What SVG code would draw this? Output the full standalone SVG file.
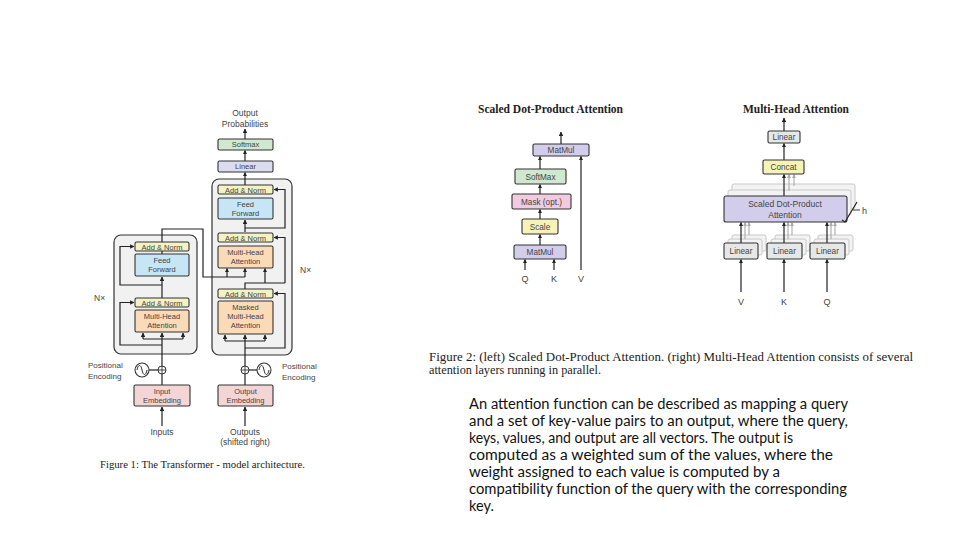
<svg xmlns="http://www.w3.org/2000/svg" width="960" height="540" viewBox="0 0 960 540">
<defs>
<marker id="a" viewBox="0 0 10 10" refX="9" refY="5" markerWidth="3.6" markerHeight="3.6" orient="auto"><path d="M0,0 L10,5 L0,10 z" fill="#222"/></marker>
<marker id="ag" viewBox="0 0 10 10" refX="9" refY="5" markerWidth="3.6" markerHeight="3.6" orient="auto"><path d="M0,0 L10,5 L0,10 z" fill="#aaa"/></marker>
<style>
.t{font-family:"Liberation Sans",Arial,sans-serif;font-size:7.5px;fill:#444;text-anchor:middle}
.r{font-size:8.2px}
.l{font-family:"Liberation Sans",Arial,sans-serif;font-size:8px;fill:#444}
.b{stroke:#333;stroke-width:1.1}
.blk{fill:#f1f1f1;stroke:#333;stroke-width:1.2}
.an{fill:#f2f2c4}.ff{fill:#c6e6f6}.mh{fill:#fbdab7}.em{fill:#f4d5d5}.li{fill:#dcdcf1}.sm{fill:#cfe8cf}
.mm{fill:#d3cdec}.mk{fill:#f3cbe0}.sc{fill:#f6f3b8}.gl{fill:#e6e8e8}
.c{fill:none;stroke:#222;stroke-width:1.2}
.ca{fill:none;stroke:#222;stroke-width:1.2;marker-end:url(#a)}
.cg{fill:none;stroke:#aaa;stroke-width:1.1;marker-end:url(#ag)}
.bg{fill:#f3f3f3;stroke:#c8c8c8;stroke-width:1}
.s{font-family:"Liberation Serif","Times New Roman",serif;fill:#222}
.p{font-family:Lato,"Liberation Sans",sans-serif;font-size:14.5px;fill:#111}
</style>
</defs>
<rect width="960" height="540" fill="#fff"/>

<!-- Transformer -->
<g id="decoder-block"><rect class="blk" x="212" y="179" width="80" height="176" rx="7"/></g>
<g id="encoder-block"><rect class="blk" x="114" y="235" width="83" height="119" rx="7"/></g>

<g id="connectors-left">
<path class="ca" d="M162,426 V407"/>
<path class="c" d="M162,385 V374"/>
<path class="ca" d="M162,366 V333"/>
<path class="c" d="M143,339 H183"/>
<path class="ca" d="M143,339 V333"/>
<path class="ca" d="M183,339 V333"/>
<path class="ca" d="M162,345 H120 V302.5 H134"/>
<path class="ca" d="M162,298 V277"/>
<path class="ca" d="M162,285 H120 V246.5 H134"/>
<path class="c" d="M162,254 V251"/>
<path class="c" d="M162,242 V229 H203 V277 H245"/>
<path class="ca" d="M227,277 V268.5"/>
<path class="ca" d="M245,277 V268.5"/>
<path class="ca" d="M245,426 V407"/>
<path class="c" d="M245,385 V374"/>
<path class="ca" d="M245,366 V335"/>
<path class="c" d="M225,341 H265"/>
<path class="ca" d="M225,341 V335"/>
<path class="ca" d="M265,341 V335"/>
<path class="ca" d="M245,348 H285 V293.5 H274"/>
<path class="c" d="M245,289 V283 H285"/>
<path class="ca" d="M265,283 V268.5"/>
<path class="ca" d="M285,283 V237.5 H274"/>
<path class="ca" d="M245,232 V220"/>
<path class="ca" d="M245,228 H285 V189.5 H274"/>
<path class="ca" d="M245,185 V172.5"/>
<path class="ca" d="M245,161 V150.5"/>
<path class="ca" d="M245,139 V129"/>
<path class="c" d="M149,370 H158"/>
<path class="c" d="M249,370 H257"/>
</g>

<g id="enc-pos">
<circle cx="142" cy="370" r="7" fill="#fff" stroke="#333" stroke-width="1.1"/>
<path d="M137,370 C138,364 141,364 142,370 C143,376 146,376 147,370" fill="none" stroke="#333" stroke-width="1"/>
<circle cx="162" cy="370" r="4" fill="#fff" stroke="#333" stroke-width="1"/>
<path d="M158,370 H166 M162,366 V374" stroke="#333" stroke-width="0.9"/>
<text class="l" x="88" y="368">Positional</text><text class="l" x="88" y="379">Encoding</text>
</g>
<g id="dec-pos">
<circle cx="264" cy="370" r="7" fill="#fff" stroke="#333" stroke-width="1.1"/>
<path d="M259,370 C260,364 263,364 264,370 C265,376 268,376 269,370" fill="none" stroke="#333" stroke-width="1"/>
<circle cx="245" cy="370" r="4" fill="#fff" stroke="#333" stroke-width="1"/>
<path d="M241,370 H249 M245,366 V374" stroke="#333" stroke-width="0.9"/>
<text class="l" x="282" y="369">Positional</text><text class="l" x="282" y="380">Encoding</text>
</g>

<g id="enc-an1"><rect class="b an" x="135" y="242" width="54" height="9" rx="1.5"/><text class="t" x="162" y="249.5">Add &amp; Norm</text></g>
<g id="enc-ff"><rect class="b ff" x="135" y="254" width="54" height="22" rx="1.5"/><text class="t" x="162" y="263">Feed</text><text class="t" x="162" y="272">Forward</text></g>
<g id="enc-an2"><rect class="b an" x="135" y="298" width="54" height="9" rx="1.5"/><text class="t" x="162" y="305.5">Add &amp; Norm</text></g>
<g id="enc-mha"><rect class="b mh" x="135" y="310" width="54" height="22" rx="1.5"/><text class="t" x="162" y="319">Multi-Head</text><text class="t" x="162" y="328">Attention</text></g>
<g id="enc-emb"><rect class="b em" x="134" y="385" width="56" height="21" rx="1.5"/><text class="t" x="162" y="394">Input</text><text class="t" x="162" y="403">Embedding</text></g>

<g id="dec-an1"><rect class="b an" x="218" y="185" width="55" height="9" rx="1.5"/><text class="t" x="245.5" y="192.5">Add &amp; Norm</text></g>
<g id="dec-ff"><rect class="b ff" x="218" y="198" width="55" height="21" rx="1.5"/><text class="t" x="245.5" y="207">Feed</text><text class="t" x="245.5" y="216">Forward</text></g>
<g id="dec-an2"><rect class="b an" x="218" y="233" width="55" height="9" rx="1.5"/><text class="t" x="245.5" y="240.5">Add &amp; Norm</text></g>
<g id="dec-mha"><rect class="b mh" x="218" y="246" width="55" height="22" rx="1.5"/><text class="t" x="245.5" y="255">Multi-Head</text><text class="t" x="245.5" y="264">Attention</text></g>
<g id="dec-an3"><rect class="b an" x="218" y="289" width="55" height="9" rx="1.5"/><text class="t" x="245.5" y="296.5">Add &amp; Norm</text></g>
<g id="dec-mmha"><rect class="b mh" x="218" y="301" width="55" height="33" rx="1.5"/><text class="t" x="245.5" y="310">Masked</text><text class="t" x="245.5" y="319">Multi-Head</text><text class="t" x="245.5" y="328">Attention</text></g>
<g id="dec-emb"><rect class="b em" x="218" y="385" width="55" height="21" rx="1.5"/><text class="t" x="245.5" y="394">Output</text><text class="t" x="245.5" y="403">Embedding</text></g>
<g id="linear"><rect class="b li" x="218" y="161" width="55" height="11" rx="1.5"/><text class="t" x="245.5" y="169">Linear</text></g>
<g id="softmax"><rect class="b sm" x="218" y="139" width="55" height="11" rx="1.5"/><text class="t" x="245.5" y="147">Softmax</text></g>

<text class="t" x="245" y="116" style="font-size:8.5px">Output</text>
<text class="t" x="245" y="127" style="font-size:8.5px">Probabilities</text>
<text class="t" x="162" y="435" style="font-size:8.5px">Inputs</text>
<text class="t" x="245" y="435" style="font-size:8.5px">Outputs</text>
<text class="t" x="245" y="445" style="font-size:8.5px">(shifted right)</text>
<text class="l" x="94" y="301" style="font-size:8.5px">N×</text>
<text class="l" x="300" y="273" style="font-size:8.5px">N×</text>
<text class="s" x="100" y="468" font-size="10.5" textLength="205" lengthAdjust="spacingAndGlyphs">Figure 1: The Transformer - model architecture.</text>

<!-- Scaled Dot-Product Attention -->
<text class="s" x="478" y="113" font-size="11.5" font-weight="bold" textLength="145" lengthAdjust="spacingAndGlyphs">Scaled Dot-Product Attention</text>
<g id="sdpa-connectors">
<path class="ca" d="M561,144 V132"/>
<path class="ca" d="M540,169 V156.5"/>
<path class="ca" d="M540,194 V184.5"/>
<path class="ca" d="M540,219 V209.5"/>
<path class="ca" d="M540,245 V234.5"/>
<path class="ca" d="M525,270 V259.5"/>
<path class="ca" d="M554,270 V259.5"/>
<path class="ca" d="M581,270 V156.5"/>
</g>
<g id="sdpa-matmul2"><rect class="b mm" x="533" y="144" width="56" height="12" rx="1.5" stroke-width="1.4"/><text class="t r" x="561" y="153">MatMul</text></g>
<g id="sdpa-softmax"><rect class="b sm" x="515" y="169" width="51" height="15" rx="1.5" stroke-width="1.4"/><text class="t r" x="540.5" y="179.5">SoftMax</text></g>
<g id="sdpa-mask"><rect class="b mk" x="512" y="194" width="59" height="15" rx="1.5" stroke-width="1.4"/><text class="t r" x="541.5" y="204.5">Mask (opt.)</text></g>
<g id="sdpa-scale"><rect class="b sc" x="522" y="219" width="36" height="15" rx="1.5" stroke-width="1.4"/><text class="t r" x="540" y="229.5">Scale</text></g>
<g id="sdpa-matmul1"><rect class="b mm" x="514" y="245" width="52" height="14" rx="1.5" stroke-width="1.4"/><text class="t r" x="540" y="255">MatMul</text></g>
<text class="t" x="525" y="282" style="font-size:9px">Q</text>
<text class="t" x="554" y="282" style="font-size:9px">K</text>
<text class="t" x="581" y="282" style="font-size:9px">V</text>

<!-- Multi-Head Attention -->
<text class="s" x="743" y="113" font-size="11.5" font-weight="bold" textLength="106" lengthAdjust="spacingAndGlyphs">Multi-Head Attention</text>
<g id="mha-back">
<rect class="bg" x="732" y="184" width="123" height="25" rx="2"/>
<rect class="bg" x="728" y="190" width="123" height="25" rx="2"/>
<rect class="bg" x="732" y="235" width="34" height="16" rx="2"/><rect class="bg" x="728" y="239" width="34" height="16" rx="2"/>
<rect class="bg" x="775" y="235" width="35" height="16" rx="2"/><rect class="bg" x="771" y="239" width="35" height="16" rx="2"/>
<rect class="bg" x="818" y="235" width="35" height="16" rx="2"/><rect class="bg" x="814" y="239" width="35" height="16" rx="2"/>
</g>
<g id="mha-connectors">
<path class="cg" d="M794,186 V174.5"/><path class="cg" d="M789,191 V174.5"/>
<path class="cg" d="M749,235 V222.5"/><path class="cg" d="M745,239 V222.5"/>
<path class="cg" d="M792,235 V222.5"/><path class="cg" d="M788,239 V222.5"/>
<path class="cg" d="M835,235 V222.5"/><path class="cg" d="M831,239 V222.5"/>
<path class="ca" d="M784,131 V118"/>
<path class="ca" d="M784,160 V143.5"/>
<path class="ca" d="M784,196 V174.5"/>
<path class="ca" d="M741,243 V222.5"/>
<path class="ca" d="M784,243 V222.5"/>
<path class="ca" d="M827,243 V222.5"/>
<path class="ca" d="M741,292 V259.5"/>
<path class="ca" d="M784,292 V259.5"/>
<path class="ca" d="M827,292 V259.5"/>
</g>
<g id="mha-linear"><rect class="b gl" x="768" y="131" width="32" height="12" rx="1.5" stroke-width="1.4"/><text class="t r" x="784" y="140">Linear</text></g>
<g id="mha-concat"><rect class="b sc" x="763" y="160" width="41" height="14" rx="1.5" stroke-width="1.4"/><text class="t r" x="783.5" y="170">Concat</text></g>
<g id="mha-sdpa"><rect class="b mm" x="724" y="196" width="123" height="26" rx="2" stroke-width="1.6"/><text class="t" x="785" y="207" style="font-size:8.5px">Scaled Dot-Product</text><text class="t" x="785" y="218" style="font-size:8.5px">Attention</text></g>
<g id="mha-lin1"><rect class="b gl" x="724" y="243" width="34" height="16" rx="1.5" stroke-width="1.4"/><text class="t r" x="741" y="254">Linear</text></g>
<g id="mha-lin2"><rect class="b gl" x="767" y="243" width="35" height="16" rx="1.5" stroke-width="1.4"/><text class="t r" x="784.5" y="254">Linear</text></g>
<g id="mha-lin3"><rect class="b gl" x="810" y="243" width="35" height="16" rx="1.5" stroke-width="1.4"/><text class="t r" x="827.5" y="254">Linear</text></g>
<g id="h-mark">
<path d="M842,220 L845,222 L857,202" fill="none" stroke="#222" stroke-width="1.2"/>
<path d="M853,210 H860" stroke="#222" stroke-width="0.9"/>
<text class="l" x="862" y="214" style="font-size:9px">h</text>
</g>
<text class="t" x="741" y="305" style="font-size:9px">V</text>
<text class="t" x="784" y="305" style="font-size:9px">K</text>
<text class="t" x="827" y="305" style="font-size:9px">Q</text>

<text class="s" x="429" y="361" font-size="11.5" textLength="484" lengthAdjust="spacingAndGlyphs">Figure 2: (left) Scaled Dot-Product Attention. (right) Multi-Head Attention consists of several</text>
<text class="s" x="429" y="374" font-size="11.5" textLength="172" lengthAdjust="spacingAndGlyphs">attention layers running in parallel.</text>

<g id="body">
<text class="p" x="469" y="409" textLength="379" lengthAdjust="spacingAndGlyphs">An attention function can be described as mapping a query</text>
<text class="p" x="469" y="426" textLength="379" lengthAdjust="spacingAndGlyphs">and a set of key-value pairs to an output, where the query,</text>
<text class="p" x="469" y="443" textLength="324" lengthAdjust="spacingAndGlyphs">keys, values, and output are all vectors. The output is</text>
<text class="p" x="469" y="460" textLength="364" lengthAdjust="spacingAndGlyphs">computed as a weighted sum of the values, where the</text>
<text class="p" x="469" y="477" textLength="311" lengthAdjust="spacingAndGlyphs">weight assigned to each value is computed by a</text>
<text class="p" x="469" y="494" textLength="378" lengthAdjust="spacingAndGlyphs">compatibility function of the query with the corresponding</text>
<text class="p" x="469" y="511">key.</text>
</g>
</svg>
